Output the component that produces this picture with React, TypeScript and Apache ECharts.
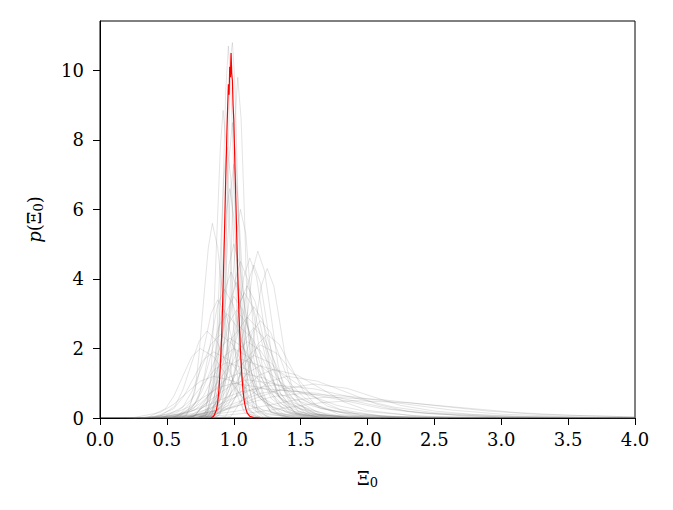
import React, { useEffect, useRef } from "react";
import * as echarts from "echarts";

// Tick labels
const xTicks = [0, 0.5, 1.0, 1.5, 2.0, 2.5, 3.0, 3.5, 4.0];
const yTicks = [0, 2, 4, 6, 8, 10];

// Red reference curve [x, p]
const redCurve: number[][] = [[0.83,0],[0.85,0.05],[0.87,0.22],[0.88,0.45],[0.89,0.85],[0.9,1.5],[0.91,2.4],[0.92,3.7],[0.93,5.2],[0.94,6.9],[0.95,8.4],[0.955,9.0],[0.96,9.6],[0.965,9.3],[0.97,10.1],[0.975,9.8],[0.98,10.5],[0.985,9.9],[0.99,9.7],[0.995,9.0],[1.0,8.6],[1.01,7.1],[1.02,5.6],[1.03,4.1],[1.04,2.9],[1.05,1.95],[1.06,1.25],[1.07,0.75],[1.08,0.45],[1.09,0.27],[1.1,0.15],[1.12,0.05],[1.15,0.01],[1.2,0]];

// Grey sample curves [x, p]
const n01 = [[0.8,0],[0.88,0.12],[0.92,1.46],[0.94,3.5],[0.95,6.55],[0.97,9.5],[0.98,10.5],[0.99,10.8],[1.0,10.2],[1.01,9.5],[1.03,6.55],[1.05,3.5],[1.07,1.7],[1.11,0.3],[1.17,0.03],[1.25,0]];
const n02 = [[0.78,0],[0.84,0.12],[0.88,1.45],[0.9,3.5],[0.92,6.5],[0.94,9.4],[0.96,10.7],[0.98,9.4],[1.005,6.5],[1.03,3.5],[1.05,1.7],[1.095,0.3],[1.16,0.03],[1.25,0]];
const n03 = [[0.85,0],[0.9,0.11],[0.95,1.3],[0.97,3.2],[0.99,5.9],[1.01,8.6],[1.03,9.8],[1.055,8.6],[1.08,5.9],[1.1,3.2],[1.125,1.5],[1.17,0.3],[1.25,0.03],[1.35,0]];
const n04 = [[0.72,0],[0.785,0.1],[0.83,1.2],[0.85,2.9],[0.875,5.4],[0.9,7.8],[0.92,8.85],[0.945,7.8],[0.97,5.4],[0.995,2.9],[1.02,1.4],[1.07,0.25],[1.15,0.03],[1.25,0]];
const n05 = [[0.78,0],[0.85,0.09],[0.895,1.15],[0.92,2.75],[0.943,5.2],[0.966,7.5],[0.99,8.5],[1.016,7.5],[1.042,5.2],[1.068,2.75],[1.094,1.35],[1.146,0.25],[1.22,0.03],[1.3,0]];
const n06 = [[0.76,0],[0.835,0.08],[0.89,1.0],[0.918,2.4],[0.945,4.4],[0.973,6.4],[1.0,7.3],[1.03,6.4],[1.06,4.4],[1.09,2.4],[1.12,1.15],[1.18,0.2],[1.27,0.02],[1.36,0]];
const n07 = [[0.7,0],[0.79,0.07],[0.85,0.9],[0.88,2.15],[0.91,4.0],[0.94,5.8],[0.97,6.6],[1.0,5.8],[1.035,4.0],[1.07,2.15],[1.1,1.05],[1.165,0.2],[1.26,0.02],[1.36,0]];
const n08 = [[0.55,0],[0.645,0.06],[0.71,0.76],[0.74,1.8],[0.775,3.4],[0.81,4.9],[0.84,5.6],[0.88,4.9],[0.92,3.4],[0.96,1.8],[1.0,0.9],[1.08,0.15],[1.2,0.02],[1.32,0]];
const n09 = [[0.77,0],[0.855,0.07],[0.92,0.8],[0.95,1.95],[0.985,3.6],[1.02,5.3],[1.05,6.0],[1.09,5.3],[1.125,3.6],[1.16,1.95],[1.2,0.95],[1.275,0.17],[1.39,0.02],[1.5,0]];
const n10 = [[0.72,0],[0.8,0.09],[0.85,1.05],[0.875,2.5],[0.9,4.7],[0.925,6.9],[0.95,7.8],[0.978,6.9],[1.005,4.7],[1.03,2.5],[1.06,1.25],[1.115,0.22],[1.2,0.02],[1.3,0]];

const m01 = [[0.86,0],[0.94,0.05],[1.02,0.65],[1.06,1.56],[1.1,2.91],[1.14,4.23],[1.18,4.8],[1.23,4.23],[1.28,2.91],[1.33,1.56],[1.38,0.77],[1.48,0.19],[1.63,0.02],[1.8,0]];
const m02 = [[0.9,0],[0.98,0.05],[1.07,0.58],[1.115,1.4],[1.16,2.61],[1.205,3.79],[1.25,4.3],[1.3,3.79],[1.35,2.61],[1.4,1.4],[1.45,0.69],[1.55,0.17],[1.7,0.02],[1.85,0]];
const m03 = [[0.76,0],[0.85,0.05],[0.94,0.62],[0.985,1.5],[1.03,2.79],[1.075,4.06],[1.12,4.6],[1.17,4.06],[1.22,2.79],[1.27,1.5],[1.32,0.74],[1.42,0.18],[1.57,0.02],[1.72,0]];
const m04 = [[0.73,0],[0.81,0.05],[0.89,0.61],[0.93,1.46],[0.97,2.73],[1.01,3.97],[1.05,4.5],[1.105,3.97],[1.16,2.73],[1.215,1.46],[1.27,0.72],[1.38,0.18],[1.545,0.02],[1.7,0]];
const m05 = [[0.62,0],[0.71,0.05],[0.8,0.57],[0.845,1.37],[0.89,2.55],[0.935,3.7],[0.98,4.2],[1.03,3.7],[1.08,2.55],[1.13,1.37],[1.18,0.67],[1.28,0.17],[1.43,0.02],[1.58,0]];
const m06 = [[0.7,0],[0.8,0.04],[0.9,0.51],[0.95,1.24],[1.0,2.31],[1.05,3.35],[1.1,3.8],[1.16,3.35],[1.22,2.31],[1.28,1.24],[1.34,0.61],[1.46,0.15],[1.64,0.02],[1.82,0]];
const m07 = [[0.6,0],[0.7,0.04],[0.8,0.47],[0.85,1.14],[0.9,2.12],[0.95,3.09],[1.0,3.5],[1.07,3.09],[1.14,2.12],[1.21,1.14],[1.28,0.56],[1.42,0.14],[1.63,0.02],[1.84,0]];
const m08 = [[0.71,0],[0.82,0.04],[0.93,0.43],[0.985,1.04],[1.04,1.94],[1.095,2.82],[1.15,3.2],[1.215,2.82],[1.28,1.94],[1.345,1.04],[1.41,0.51],[1.54,0.13],[1.735,0.02],[1.93,0]];
const m09 = [[0.47,0],[0.59,0.03],[0.71,0.41],[0.77,0.98],[0.83,1.82],[0.89,2.65],[0.95,3.0],[1.02,2.65],[1.09,1.82],[1.16,0.98],[1.23,0.48],[1.37,0.12],[1.58,0.02],[1.8,0]];
const m10 = [[0.72,0],[0.84,0.03],[0.96,0.38],[1.02,0.91],[1.08,1.7],[1.14,2.47],[1.2,2.8],[1.275,2.47],[1.35,1.7],[1.425,0.91],[1.5,0.45],[1.65,0.11],[1.875,0.01],[2.1,0]];
const m11 = [[0.53,0],[0.66,0.03],[0.79,0.35],[0.855,0.85],[0.92,1.58],[0.985,2.29],[1.05,2.6],[1.14,2.29],[1.23,1.58],[1.32,0.85],[1.41,0.42],[1.59,0.1],[1.86,0.01],[2.1,0]];
const m12 = [[0.34,0],[0.48,0.03],[0.62,0.32],[0.69,0.78],[0.76,1.46],[0.83,2.12],[0.9,2.4],[0.99,2.12],[1.08,1.46],[1.17,0.78],[1.26,0.38],[1.44,0.1],[1.71,0.01],[1.95,0]];
const m13 = [[0.54,0],[0.68,0.02],[0.82,0.3],[0.89,0.72],[0.96,1.34],[1.03,1.94],[1.1,2.2],[1.2,1.94],[1.3,1.34],[1.4,0.72],[1.5,0.35],[1.7,0.09],[2.0,0.01],[2.3,0]];
const m14 = [[0.4,0],[0.55,0.02],[0.7,0.27],[0.775,0.65],[0.85,1.21],[0.925,1.76],[1.0,2.0],[1.11,1.76],[1.22,1.21],[1.33,0.65],[1.44,0.32],[1.66,0.08],[1.99,0.01],[2.3,0]];
const m15 = [[0.51,0],[0.67,0.02],[0.83,0.24],[0.91,0.59],[0.99,1.09],[1.07,1.59],[1.15,1.8],[1.275,1.59],[1.4,1.09],[1.525,0.59],[1.65,0.29],[1.9,0.07],[2.275,0.01],[2.6,0]];
const m16 = [[0.3,0],[0.41,0.02],[0.59,0.22],[0.68,0.52],[0.77,0.97],[0.86,1.41],[0.95,1.6],[1.09,1.41],[1.23,0.97],[1.37,0.52],[1.51,0.26],[1.79,0.06],[2.21,0.01],[2.6,0]];
const m17 = [[0.5,0],[0.66,0.02],[0.84,0.2],[0.93,0.49],[1.02,0.91],[1.11,1.32],[1.2,1.5],[1.35,1.32],[1.5,0.91],[1.65,0.49],[1.8,0.24],[2.1,0.06],[2.55,0.01],[2.9,0]];
const m18 = [[0.3,0],[0.45,0.01],[0.65,0.18],[0.75,0.42],[0.85,0.79],[0.95,1.15],[1.05,1.3],[1.225,1.15],[1.4,0.79],[1.575,0.42],[1.75,0.21],[2.1,0.05],[2.625,0.01],[3.0,0]];
const m19 = [[0.3,0],[0.44,0.01],[0.66,0.15],[0.77,0.36],[0.88,0.67],[0.99,0.97],[1.1,1.1],[1.325,0.97],[1.55,0.67],[1.775,0.36],[2.0,0.18],[2.45,0.04],[3.125,0.01],[3.6,0]];
const m20 = [[0.25,0],[0.4,0.01],[0.7,0.13],[0.85,0.31],[1.0,0.58],[1.15,0.84],[1.3,0.95],[1.6,0.84],[1.9,0.58],[2.2,0.31],[2.5,0.15],[3.1,0.04],[3.7,0.01],[4.0,0]];
const m21 = [[0.4,0],[0.55,0.01],[0.85,0.14],[1.0,0.3],[1.15,0.55],[1.35,0.82],[1.6,0.98],[1.85,0.85],[2.05,0.6],[2.25,0.36],[2.5,0.2],[2.8,0.1],[3.2,0.04],[3.7,0.01],[4.0,0]];
const m22 = [[0.2,0],[0.3,0.01],[0.7,0.09],[0.9,0.23],[1.1,0.42],[1.3,0.62],[1.5,0.7],[1.875,0.62],[2.25,0.42],[2.625,0.23],[3.0,0.11],[3.5,0.04],[4.0,0.01]];
const m23 = [[0.3,0],[0.45,0.01],[0.75,0.11],[0.9,0.26],[1.05,0.49],[1.2,0.71],[1.35,0.8],[1.625,0.71],[1.9,0.49],[2.175,0.26],[2.45,0.13],[3.0,0.03],[3.8,0.004],[4.0,0]];
const m24 = [[0.68,0],[0.765,0.04],[0.85,0.53],[0.89,1.27],[0.935,2.37],[0.98,3.44],[1.02,3.9],[1.07,3.44],[1.12,2.37],[1.17,1.27],[1.22,0.62],[1.32,0.16],[1.47,0.02],[1.62,0]];
const m25 = [[0.32,0],[0.44,0.03],[0.56,0.34],[0.62,0.81],[0.68,1.52],[0.74,2.2],[0.8,2.5],[0.875,2.2],[0.95,1.52],[1.025,0.81],[1.1,0.4],[1.25,0.1],[1.475,0.01],[1.7,0]];
const m26 = [[0.24,0],[0.36,0.02],[0.49,0.27],[0.555,0.65],[0.62,1.21],[0.685,1.76],[0.75,2.0],[0.85,1.76],[0.95,1.21],[1.05,0.65],[1.15,0.32],[1.35,0.08],[1.65,0.01],[1.9,0]];
const m27 = [[0.48,0],[0.58,0.04],[0.68,0.46],[0.73,1.1],[0.78,2.06],[0.83,3.0],[0.88,3.4],[0.94,3.0],[1.0,2.06],[1.06,1.1],[1.12,0.54],[1.24,0.14],[1.42,0.02],[1.6,0]];
const m28 = [[0.15,0],[0.25,0.01],[0.45,0.16],[0.55,0.39],[0.65,0.73],[0.75,1.06],[0.85,1.2],[1.0,1.06],[1.15,0.73],[1.3,0.39],[1.45,0.19],[1.75,0.05],[2.2,0.01],[2.6,0]];
const m29 = [[0.8,0],[0.88,0.05],[0.97,0.59],[1.015,1.43],[1.06,2.67],[1.105,3.88],[1.15,4.4],[1.2,3.88],[1.25,2.67],[1.3,1.43],[1.35,0.7],[1.45,0.18],[1.6,0.02],[1.75,0]];
const m30 = [[0.68,0],[0.78,0.04],[0.88,0.49],[0.93,1.17],[0.98,2.19],[1.03,3.18],[1.08,3.6],[1.145,3.18],[1.21,2.19],[1.275,1.17],[1.34,0.58],[1.47,0.14],[1.665,0.02],[1.86,0]];
const m31 = [[0.7,0],[0.83,0.03],[0.97,0.32],[1.04,0.78],[1.11,1.46],[1.18,2.12],[1.25,2.4],[1.34,2.12],[1.43,1.46],[1.52,0.78],[1.61,0.38],[1.79,0.1],[2.06,0.01],[2.3,0]];
const m32 = [[0.22,0],[0.34,0.01],[0.56,0.14],[0.67,0.33],[0.78,0.61],[0.89,0.88],[1.0,1.0],[1.2,0.88],[1.4,0.61],[1.6,0.33],[1.8,0.16],[2.2,0.04],[2.8,0.005],[3.2,0]];
const m33 = [[0.53,0],[0.63,0.04],[0.73,0.5],[0.78,1.2],[0.83,2.25],[0.88,3.26],[0.93,3.7],[0.995,3.26],[1.06,2.25],[1.125,1.2],[1.19,0.59],[1.32,0.15],[1.515,0.02],[1.7,0]];
const m34 = [[0.62,0],[0.74,0.03],[0.86,0.39],[0.92,0.94],[0.98,1.76],[1.04,2.56],[1.1,2.9],[1.185,2.56],[1.27,1.76],[1.355,0.94],[1.44,0.46],[1.61,0.12],[1.865,0.01],[2.1,0]];
const m35 = [[0.6,0],[0.75,0.02],[0.9,0.28],[0.975,0.68],[1.05,1.27],[1.125,1.85],[1.2,2.1],[1.325,1.85],[1.45,1.27],[1.575,0.68],[1.7,0.34],[1.95,0.08],[2.325,0.01],[2.7,0]];
const m36 = [[0.37,0],[0.54,0.02],[0.71,0.23],[0.795,0.55],[0.88,1.03],[0.965,1.5],[1.05,1.7],[1.2,1.5],[1.35,1.03],[1.5,0.55],[1.65,0.27],[1.95,0.07],[2.4,0.01],[2.8,0]];
const m37 = [[0.42,0],[0.64,0.02],[0.86,0.19],[0.97,0.46],[1.08,0.85],[1.19,1.23],[1.3,1.4],[1.475,1.23],[1.65,0.85],[1.825,0.46],[2.0,0.22],[2.35,0.06],[2.875,0.01],[3.3,0]];
const m38 = [[0.2,0],[0.35,0.01],[0.8,0.08],[1.025,0.2],[1.25,0.36],[1.475,0.53],[1.7,0.6],[2.1,0.53],[2.5,0.36],[2.9,0.2],[3.3,0.1],[4.0,0.03]];
const m39 = [[0.25,0],[0.4,0.01],[0.9,0.07],[1.15,0.16],[1.4,0.3],[1.65,0.44],[1.9,0.5],[2.3,0.44],[2.7,0.3],[3.1,0.16],[3.5,0.08],[4.0,0.03]];
const m40 = [[0.45,0],[0.65,0.01],[0.9,0.16],[1.025,0.39],[1.15,0.73],[1.275,1.06],[1.4,1.2],[1.625,1.06],[1.85,0.73],[2.075,0.39],[2.3,0.19],[2.75,0.05],[3.425,0.01],[3.9,0]];
const m41 = [[0.58,0],[0.69,0.03],[0.8,0.42],[0.855,1.01],[0.91,1.88],[0.965,2.73],[1.02,3.1],[1.095,2.73],[1.17,1.88],[1.245,1.01],[1.32,0.5],[1.47,0.12],[1.695,0.02],[1.9,0]];
const m42 = [[0.41,0],[0.55,0.03],[0.69,0.31],[0.76,0.75],[0.83,1.4],[0.9,2.03],[0.97,2.3],[1.07,2.03],[1.17,1.4],[1.27,0.75],[1.37,0.37],[1.57,0.09],[1.87,0.01],[2.15,0]];
const m43 = [[0.25,0],[0.4,0.02],[0.55,0.26],[0.625,0.62],[0.7,1.15],[0.775,1.68],[0.85,1.9],[0.96,1.68],[1.07,1.15],[1.18,0.62],[1.29,0.3],[1.51,0.08],[1.84,0.01],[2.15,0]];
const m44 = [[0.15,0],[0.3,0.01],[0.6,0.11],[0.75,0.28],[0.9,0.52],[1.05,0.75],[1.2,0.85],[1.5,0.75],[1.8,0.52],[2.1,0.28],[2.4,0.14],[3.0,0.03],[3.9,0.004],[4.0,0]];
const m45 = [[0.67,0],[0.79,0.03],[0.91,0.35],[0.97,0.85],[1.03,1.58],[1.09,2.29],[1.15,2.6],[1.23,2.29],[1.31,1.58],[1.39,0.85],[1.47,0.42],[1.63,0.1],[1.87,0.01],[2.1,0]];
const m46 = [[0.72,0],[0.79,0.06],[0.86,0.68],[0.895,1.63],[0.93,3.04],[0.965,4.41],[1.0,5.0],[1.045,4.41],[1.09,3.04],[1.135,1.63],[1.18,0.8],[1.27,0.2],[1.405,0.03],[1.55,0]];

const greyCurves = [n01,n02,n03,n04,n05,n06,n07,n08,n09,n10,m01,m02,m03,m04,m05,m06,m07,m08,m09,m10,m11,m12,m13,m14,m15,m16,m17,m18,m19,m20,m21,m22,m23,m24,m25,m26,m27,m28,m29,m30,m31,m32,m33,m34,m35,m36,m37,m38,m39,m40,m41,m42,m43,m44,m45,m46];

const FONT = "DejaVu Serif";
const FS = 18;

const richName = {
  i: { fontFamily: FONT, fontStyle: "italic", fontSize: FS, color: "#000", lineHeight: 20 },
  n: { fontFamily: FONT, fontSize: FS, color: "#000", lineHeight: 20 },
  s: { fontFamily: FONT, fontSize: 13, color: "#000", padding: [9, 0, 0, 0], lineHeight: 16 },
};

export default function App() {
  const ref = useRef<HTMLDivElement>(null);
  useEffect(() => {
    if (!ref.current) return;
    const chart = echarts.init(ref.current, null, { renderer: "svg" });
    const series: any[] = greyCurves.map((c) => ({
      type: "line",
      data: c,
      showSymbol: false,
      silent: true,
      lineStyle: { color: "rgba(128,128,128,0.27)", width: 0.8 },
      z: 2,
    }));
    series.push({
      type: "line",
      data: redCurve,
      showSymbol: false,
      silent: true,
      lineStyle: { color: "#ff0000", width: 1.2 },
      z: 3,
    });
    chart.setOption({
      animation: false,
      backgroundColor: "#ffffff",
      grid: {
        left: 100,
        right: 38,
        top: 21,
        bottom: 92,
        show: true,
        borderColor: "#000",
        borderWidth: 1,
        backgroundColor: "transparent",
      },
      xAxis: {
        type: "value",
        min: 0,
        max: 4,
        interval: 0.5,
        name: "{n|Ξ}{s|0}",
        nameLocation: "middle",
        nameGap: 50,
        nameTextStyle: { fontFamily: FONT, fontSize: FS, color: "#000", rich: richName },
        axisLine: { show: true, lineStyle: { color: "#000", width: 1 } },
        axisTick: { show: true, inside: false, length: 7, customValues: xTicks, lineStyle: { color: "#000", width: 1 } },
        axisLabel: {
          fontFamily: FONT,
          fontSize: FS,
          color: "#000",
          margin: 12,
          customValues: xTicks,
          formatter: (v: number) => v.toFixed(1),
        },
        splitLine: { show: false },
      },
      yAxis: {
        type: "value",
        min: 0,
        max: 11.42,
        interval: 2,
        name: "{i|p}{n|(Ξ}{s|0}{n|)}",
        nameLocation: "middle",
        nameGap: 56,
        nameRotate: 90,
        nameTextStyle: { fontFamily: FONT, fontSize: FS, color: "#000", rich: richName },
        axisLine: { show: true, lineStyle: { color: "#000", width: 1 } },
        axisTick: { show: true, inside: false, length: 7, customValues: yTicks, lineStyle: { color: "#000", width: 1 } },
        axisLabel: {
          fontFamily: FONT,
          fontSize: FS,
          color: "#000",
          margin: 16,
          customValues: yTicks,
          formatter: (v: number) => String(v),
        },
        splitLine: { show: false },
      },
      series,
    });
    return () => chart.dispose();
  }, []);
  return <div ref={ref} style={{ width: 673, height: 510, position: "absolute", left: 0, top: 0 }} />;
}
